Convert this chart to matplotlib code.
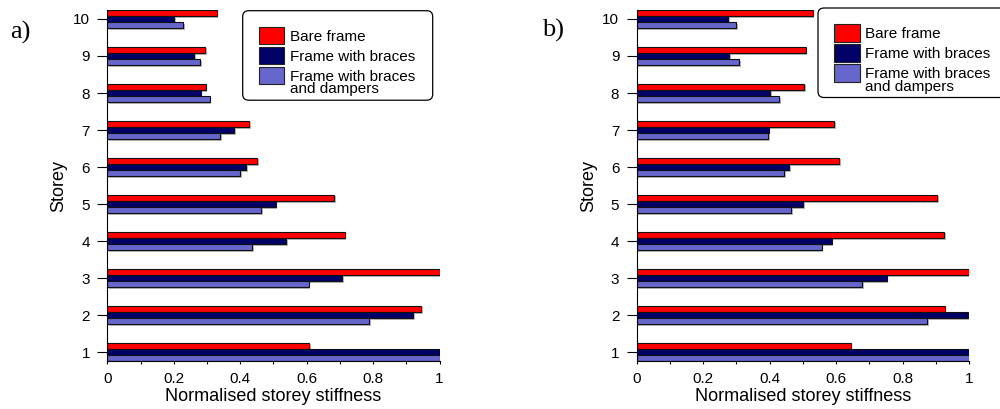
import matplotlib
matplotlib.use("Agg")
import matplotlib.pyplot as plt
import matplotlib.patches as mpatches
import matplotlib.patheffects as pe
import numpy as np

storeys = [1, 2, 3, 4, 5, 6, 7, 8, 9, 10]
series_labels = ["Bare frame", "Frame with braces", "Frame with braces\nand dampers"]
a_bare = [0.607, 0.945, 1.0, 0.715, 0.682, 0.452, 0.428, 0.296, 0.294, 0.329]
a_braces = [1.0, 0.920, 0.707, 0.539, 0.507, 0.419, 0.381, 0.281, 0.262, 0.201]
a_dampers = [1.0, 0.789, 0.606, 0.436, 0.464, 0.400, 0.339, 0.308, 0.280, 0.228]
b_bare = [0.644, 0.927, 1.0, 0.925, 0.905, 0.609, 0.595, 0.504, 0.508, 0.530]
b_braces = [1.0, 0.997, 0.752, 0.587, 0.500, 0.459, 0.397, 0.401, 0.279, 0.275]
b_dampers = [1.0, 0.875, 0.679, 0.557, 0.465, 0.444, 0.395, 0.429, 0.309, 0.300]
x_ticks = [0, 0.2, 0.4, 0.6, 0.8, 1]
x_ticklabels = ["0", "0.2", "0.4", "0.6", "0.8", "1"]

colors = ["#ff0000", "#000066", "#6666cc"]
plt.rcParams['font.family'] = ['Liberation Sans', 'DejaVu Sans']

W, H = 1000, 409
fig = plt.figure(figsize=(W / 100, H / 100), dpi=100)
axa = fig.add_axes([0.1073, 0.1166, 0.3322, 0.8596])
axb = fig.add_axes([0.6367, 0.1166, 0.3323, 0.8596])

h = 1 / 6
shadow = [pe.SimplePatchShadow(offset=(1.2, -1.2), shadow_rgbFace='#888888', alpha=0.6), pe.Normal()]
tr = fig.dpi_scale_trans  # inches; 1 inch = 100 px


def px(x, y):
    """pixel coords (y from top) -> inches"""
    return x / 100, (H - y) / 100


def legend_box(left, top):
    bx, by = px(left, top + 89.5)
    box = mpatches.FancyBboxPatch((bx, by), 1.90, 0.895,
                                  boxstyle="round,pad=0,rounding_size=0.06",
                                  transform=tr, facecolor='white', edgecolor='black',
                                  linewidth=0.9, zorder=5, clip_on=False)
    fig.add_artist(box)
    for i, (c, lab) in enumerate(zip(colors, series_labels)):
        ptop = top + 16 + 20 * i
        rx, ry = px(left + 16, ptop + 17.6)
        rect = mpatches.Rectangle((rx, ry), 0.255, 0.176, transform=tr,
                                  facecolor=c, edgecolor='#222222', linewidth=0.8,
                                  zorder=6, clip_on=False)
        fig.add_artist(rect)
        lines = lab.split("\n")
        for j, line in enumerate(lines):
            tx, ty = px(left + 47.5, ptop + 8.8 + 12.5 * j)
            fig.text(tx, ty, line, transform=tr, fontsize=11, va='center_baseline',
                     ha='left', zorder=7)


def draw(ax, data):
    y = np.array(storeys, dtype=float)
    offs = [h, 0, -h]
    for vals, off, c in zip(data, offs, colors):
        bars = ax.barh(y + off, vals, height=h, color=c, edgecolor='#111111', linewidth=0.8)
        for b in bars:
            b.set_path_effects(shadow)
    ax.set_xlim(0, 1)
    ax.set_ylim(0.75, 10.25)
    ax.set_yticks(storeys)
    ax.set_yticklabels([str(s) for s in storeys], fontsize=11)
    ax.set_xticks(x_ticks)
    ax.set_xticklabels(x_ticklabels, fontsize=11)
    ax.set_xticks(np.arange(0, 1.01, 0.1), minor=True)
    ax.tick_params(axis='y', direction='out', length=7.5, width=0.8, pad=5)
    ax.tick_params(axis='x', which='both', direction='out', length=2, width=0.8, pad=6)
    for s in ['top', 'right']:
        ax.spines[s].set_visible(False)
    for s in ['left', 'bottom']:
        ax.spines[s].set_linewidth(0.8)
    ax.set_xlabel("Normalised storey stiffness", fontsize=13, labelpad=1)
    ax.set_ylabel("Storey", fontsize=13, labelpad=4)


draw(axa, [a_bare, a_braces, a_dampers])
draw(axb, [b_bare, b_braces, b_dampers])
legend_box(242.7, 10.7)
legend_box(818.0, 8.0)

fig.text(0.010, 0.905, "a)", fontsize=19, family=['Liberation Serif'], va='baseline')
fig.text(0.5417, 0.910, "b)", fontsize=19, family=['Liberation Serif'], va='baseline')

fig.savefig("out.png", dpi=100)
